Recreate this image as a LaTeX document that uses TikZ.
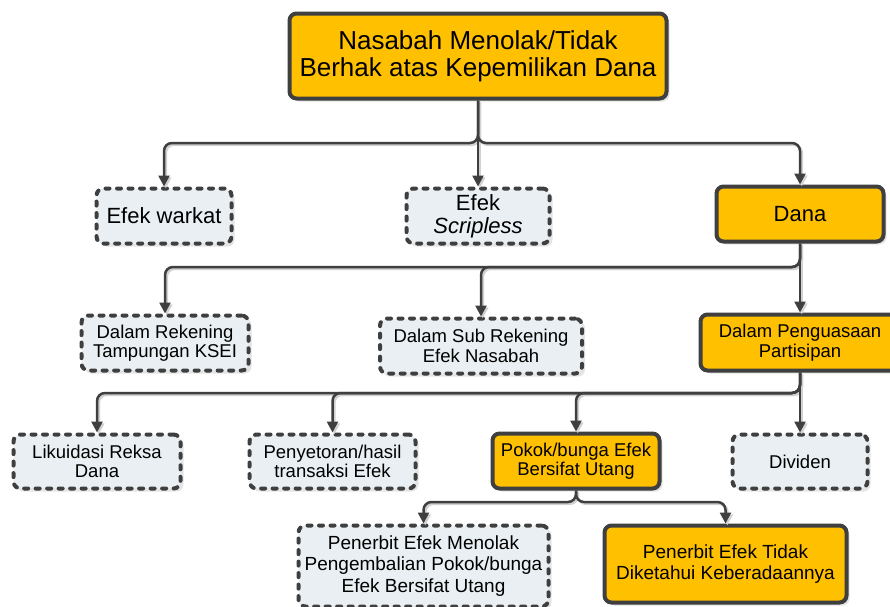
\documentclass[tikz,border=0pt]{standalone}
\usepackage{fontspec}
\setmainfont{Liberation Sans}
\usetikzlibrary{arrows.meta,shadows}
\definecolor{gold}{HTML}{FFC000}
\definecolor{edge}{HTML}{3F3F3F}
\definecolor{pale}{HTML}{E9EFF2}
% all connectors of the tree, drawn with the style given as argument
\newcommand{\treelinks}[1]{%
  \draw[#1] (top.south) -- (j1) -| (warkat.north);
  \draw[#1] (top.south) -- (j1) -| (dana.north);
  \draw[#1] (top.south) -- (scrip.north);
  \draw[#1] (dana.south) -- (j2) -| (ksei.north);
  \draw[#1] (dana.south) -- (j2) -| (sub.north);
  \draw[#1] (dana.south) -- (part.north);
  \draw[#1] (part.south) -- (j3) -| (liq.north);
  \draw[#1] (part.south) -- (j3) -| (setor.north);
  \draw[#1] (part.south) -- (j3) -| (pokok.north);
  \draw[#1] (part.south) -- (div.north);
  \draw[#1] (pokok.south) -- (j4) -| (tolak.north);
  \draw[#1] (pokok.south) -- (j4) -| (hilang.north);}
\begin{document}
\begin{tikzpicture}[x=1pt,y=-1pt,
  box/.style={rectangle, rounded corners=7pt, line width=4pt, draw=edge,
    align=center, inner sep=2pt,
    drop shadow={shadow xshift=3pt, shadow yshift=-3pt, opacity=0.3, fill=black!35}},
  goldbox/.style={box, fill=gold},
  palebox/.style={box, fill=pale, dash pattern=on 4pt off 7.5pt, line cap=round},
  bigtext/.style={font=\fontsize{26}{27}\selectfont},
  midtext/.style={font=\fontsize{22}{23}\selectfont},
  smalltext/.style={font=\fontsize{18.5}{19.5}\selectfont},
  lowtext/.style={font=\fontsize{19}{21.5}\selectfont},
  conn/.style={draw=edge, line width=2.5pt, rounded corners=8pt,
    -{Triangle[length=11pt,width=11pt]}},
  connshade/.style={conn, draw=black!18,
    transform canvas={shift={(1.8pt,-1.8pt)}}}
]
\useasboundingbox (0,0) rectangle (890,606);

% root
\node[goldbox, bigtext, minimum width=377pt, minimum height=85pt] (top) at (478,56)
  {Nasabah Menolak/Tidak\\Berhak atas Kepemilikan Dana};

% first level
\node[palebox, midtext, minimum width=135pt, minimum height=55pt] (warkat) at (164,216) {Efek warkat};
\node[palebox, midtext, minimum width=143pt, minimum height=55pt] (scrip) at (478,216) {Efek\\\textit{Scripless}};
\node[goldbox, midtext, minimum width=167pt, minimum height=55pt] (dana) at (800,214) {Dana};

% second level
\node[palebox, smalltext, minimum width=167pt, minimum height=55pt] (ksei) at (165,343) {Dalam Rekening\\Tampungan KSEI};
\node[palebox, smalltext, minimum width=202pt, minimum height=55pt] (sub) at (481,346) {Dalam Sub Rekening\\Efek Nasabah};
\node[goldbox, smalltext, minimum width=199pt, minimum height=56pt] (part) at (800,342.5) {Dalam Penguasaan\\Partisipan};

% third level
\node[palebox, smalltext, minimum width=167pt, minimum height=54pt] (liq) at (97,461.5) {Likuidasi Reksa\\Dana};
\node[palebox, smalltext, minimum width=166pt, minimum height=54pt] (setor) at (332.5,461.5) {Penyetoran/hasil\\transaksi Efek};
\node[goldbox, smalltext, minimum width=167pt, minimum height=55pt] (pokok) at (576,461) {Pokok/bunga Efek\\Bersifat Utang};
\node[palebox, smalltext, minimum width=135pt, minimum height=54pt] (div) at (800,461.5) {Dividen};

% fourth level
\node[palebox, lowtext, minimum width=250pt, minimum height=81pt] (tolak) at (423.5,566)
  {Penerbit Efek Menolak\\Pengembalian Pokok/bunga\\Efek Bersifat Utang};
\node[goldbox, lowtext, minimum width=242pt, minimum height=77pt] (hilang) at (725.5,564)
  {Penerbit Efek Tidak\\Diketahui Keberadaannya};

% junctions
\coordinate (j1) at (478,143);
\coordinate (j2) at (800,267);
\coordinate (j3) at (800,393);
\coordinate (j4) at (576,502);

% connectors: soft shadow first, then the lines themselves
\treelinks{connshade}
\treelinks{conn}
\end{tikzpicture}
\end{document}
